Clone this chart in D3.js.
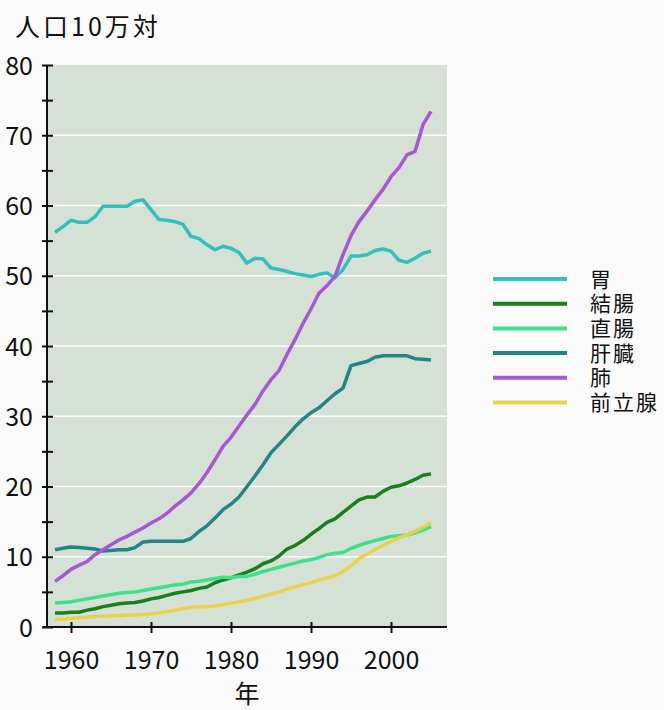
<!DOCTYPE html>
<html>
<head>
<meta charset="utf-8">
<script src="https://cdn.jsdelivr.net/npm/d3@7"></script>
<style>
  body { margin: 0; background: #fbfbfb; }
  svg { display: block; font-family: 'Noto Sans CJK JP', sans-serif; }
</style>
</head>
<body>
<div id="chart"></div>
<script>
const years = d3.range(1958, 2006);

const stomach = [56.2, 57.0, 57.9, 57.6, 57.6, 58.4, 59.9, 59.9, 59.9, 59.9, 60.6, 60.8,
  59.4, 58.0, 57.9, 57.7, 57.3, 55.6, 55.3, 54.4, 53.7, 54.2, 53.9, 53.3, 51.8, 52.5,
  52.4, 51.1, 50.9, 50.6, 50.3, 50.1, 49.9, 50.2, 50.4, 49.7, 50.9, 52.8, 52.8, 53.0,
  53.6, 53.8, 53.5, 52.2, 51.9, 52.5, 53.2, 53.5];
const colon = [2.0, 2.0, 2.1, 2.1, 2.4, 2.6, 2.9, 3.1, 3.3, 3.4, 3.5, 3.7, 4.0, 4.2, 4.5,
  4.8, 5.0, 5.2, 5.5, 5.7, 6.3, 6.7, 7.0, 7.4, 7.8, 8.3, 9.0, 9.4, 10.1, 11.1, 11.6, 12.3,
  13.2, 14.0, 14.9, 15.4, 16.3, 17.2, 18.1, 18.5, 18.5, 19.3, 19.9, 20.1, 20.5, 21.0, 21.6, 21.8];
const rectum = [3.4, 3.5, 3.6, 3.8, 4.0, 4.2, 4.4, 4.6, 4.8, 4.9, 5.0, 5.2, 5.4, 5.6, 5.8,
  6.0, 6.1, 6.4, 6.5, 6.7, 6.9, 7.1, 7.0, 7.2, 7.2, 7.5, 7.9, 8.2, 8.5, 8.8, 9.1, 9.4,
  9.6, 9.9, 10.3, 10.5, 10.6, 11.2, 11.6, 12.0, 12.3, 12.6, 12.9, 13.0, 13.1, 13.4, 13.8, 14.3];
const liver = [11.0, 11.2, 11.4, 11.3, 11.2, 11.1, 10.8, 10.9, 11.0, 11.0, 11.3, 12.1, 12.2,
  12.2, 12.2, 12.2, 12.2, 12.6, 13.6, 14.4, 15.5, 16.7, 17.5, 18.5, 20.0, 21.5, 23.1, 24.8,
  26.0, 27.2, 28.5, 29.6, 30.5, 31.2, 32.2, 33.2, 34.0, 37.2, 37.5, 37.8, 38.4, 38.6, 38.6,
  38.6, 38.6, 38.2, 38.1, 38.0];
const lung = [6.5, 7.3, 8.2, 8.8, 9.3, 10.3, 11.0, 11.7, 12.4, 12.9, 13.5, 14.1, 14.8, 15.4,
  16.2, 17.2, 18.1, 19.1, 20.4, 22.0, 23.8, 25.7, 27.0, 28.6, 30.2, 31.7, 33.6, 35.2, 36.5,
  38.8, 40.9, 43.2, 45.3, 47.5, 48.6, 49.9, 53.0, 55.7, 57.7, 59.2, 60.8, 62.3, 64.1, 65.4,
  67.2, 67.7, 71.5, 73.4];
const prostate = [1.1, 1.1, 1.2, 1.3, 1.4, 1.5, 1.5, 1.6, 1.6, 1.7, 1.7, 1.8, 1.9, 2.0, 2.2,
  2.4, 2.6, 2.8, 2.9, 2.9, 3.0, 3.2, 3.4, 3.6, 3.8, 4.1, 4.4, 4.7, 5.0, 5.4, 5.7, 6.0, 6.3,
  6.7, 7.0, 7.3, 7.9, 8.7, 9.7, 10.4, 11.0, 11.6, 12.2, 12.7, 13.1, 13.6, 14.2, 14.8];

const names = ['胃', '結腸', '直腸', '肝臓', '肺', '前立腺'];
const colors = ['#30c0c0', '#16801a', '#3ee08c', '#228686', '#a656d6', '#e8d24c'];
const yTicks = d3.range(0, 81, 5);
const xTicks = [1960, 1970, 1980, 1990, 2000];
const yTitle = '人口10万対';
const xTitle = '年';

const series = [stomach, colon, rectum, liver, lung, prostate].map((vals, i) => ({
  name: names[i],
  values: vals.map((v, j) => ({ year: years[j], value: v }))
}));

const width = 664;
const height = 710;
const plot = { left: 47, right: 447, top: 65, bottom: 627 };

const svg = d3.select('#chart').append('svg')
  .attr('width', width)
  .attr('height', height);

const x = d3.scaleLinear()
  .domain([1957, 2007])
  .range([plot.left, plot.right]);

const y = d3.scaleLinear()
  .domain([0, 80])
  .range([plot.bottom, plot.top]);

const color = d3.scaleOrdinal()
  .domain(names)
  .range(colors);

// plot background
svg.append('rect')
  .attr('x', plot.left)
  .attr('y', plot.top)
  .attr('width', plot.right - plot.left)
  .attr('height', plot.bottom - plot.top)
  .attr('fill', '#d5e1d4');

// grid
svg.append('g')
  .selectAll('line')
  .data(d3.range(10, 80, 10))
  .join('line')
  .attr('x1', plot.left)
  .attr('x2', plot.right)
  .attr('y1', d => y(d))
  .attr('y2', d => y(d))
  .attr('stroke', '#ffffff')
  .attr('stroke-width', 1.5);

const line = d3.line()
  .x(d => x(d.year))
  .y(d => y(d.value));

svg.append('g')
  .selectAll('path')
  .data(series)
  .join('path')
  .attr('d', d => line(d.values))
  .attr('fill', 'none')
  .attr('stroke', d => color(d.name))
  .attr('stroke-width', 3.5)
  .attr('stroke-linejoin', 'round');

// y axis
const yAxis = svg.append('g')
  .attr('transform', `translate(${plot.left},0)`)
  .call(d3.axisLeft(y)
    .tickValues(yTicks)
    .tickSize(5)
    .tickPadding(9)
    .tickFormat(d => d % 10 === 0 ? d : ''));

yAxis.select('.domain')
  .attr('d', `M0,${plot.top}V${plot.bottom + 1}`)
  .attr('stroke', '#111')
  .attr('stroke-width', 2);
yAxis.selectAll('.tick line')
  .attr('x1', 6)
  .attr('x2', -5)
  .attr('stroke', '#111')
  .attr('stroke-width', 2);
yAxis.selectAll('text')
  .attr('font-family', "'Noto Sans CJK JP', sans-serif")
  .attr('font-size', 25)
  .attr('fill', '#111')
  .attr('dy', '0.36em');

// x axis
const xAxis = svg.append('g')
  .attr('transform', `translate(0,${plot.bottom})`)
  .call(d3.axisBottom(x)
    .tickValues(xTicks)
    .tickSize(5)
    .tickFormat(d3.format('d')));

xAxis.select('.domain')
  .attr('d', `M${plot.left - 4},0H${plot.right}`)
  .attr('stroke', '#111')
  .attr('stroke-width', 2);
xAxis.selectAll('.tick line')
  .attr('y1', -5)
  .attr('y2', 6)
  .attr('stroke', '#111')
  .attr('stroke-width', 2);
xAxis.selectAll('text')
  .attr('font-family', "'Noto Sans CJK JP', sans-serif")
  .attr('font-size', 25)
  .attr('fill', '#111')
  .attr('y', 42)
  .attr('dy', 0);

svg.append('text')
  .attr('x', 15)
  .attr('y', 36)
  .attr('font-size', 25)
  .attr('letter-spacing', 3)
  .attr('fill', '#111')
  .text(yTitle);

svg.append('text')
  .attr('x', 247)
  .attr('y', 703)
  .attr('text-anchor', 'middle')
  .attr('font-size', 25)
  .attr('fill', '#111')
  .text(xTitle);

// legend
const legend = svg.append('g')
  .attr('transform', 'translate(493,279)')
  .selectAll('g')
  .data(names)
  .join('g')
  .attr('transform', (d, i) => `translate(0,${i * 24.7})`);

legend.append('line')
  .attr('x1', 0)
  .attr('x2', 74)
  .attr('stroke', d => color(d))
  .attr('stroke-width', 4);

legend.append('text')
  .attr('x', 97)
  .attr('dy', '0.36em')
  .attr('font-size', 21)
  .attr('letter-spacing', 2)
  .attr('fill', '#111')
  .text(d => d);
</script>
</body>
</html>
